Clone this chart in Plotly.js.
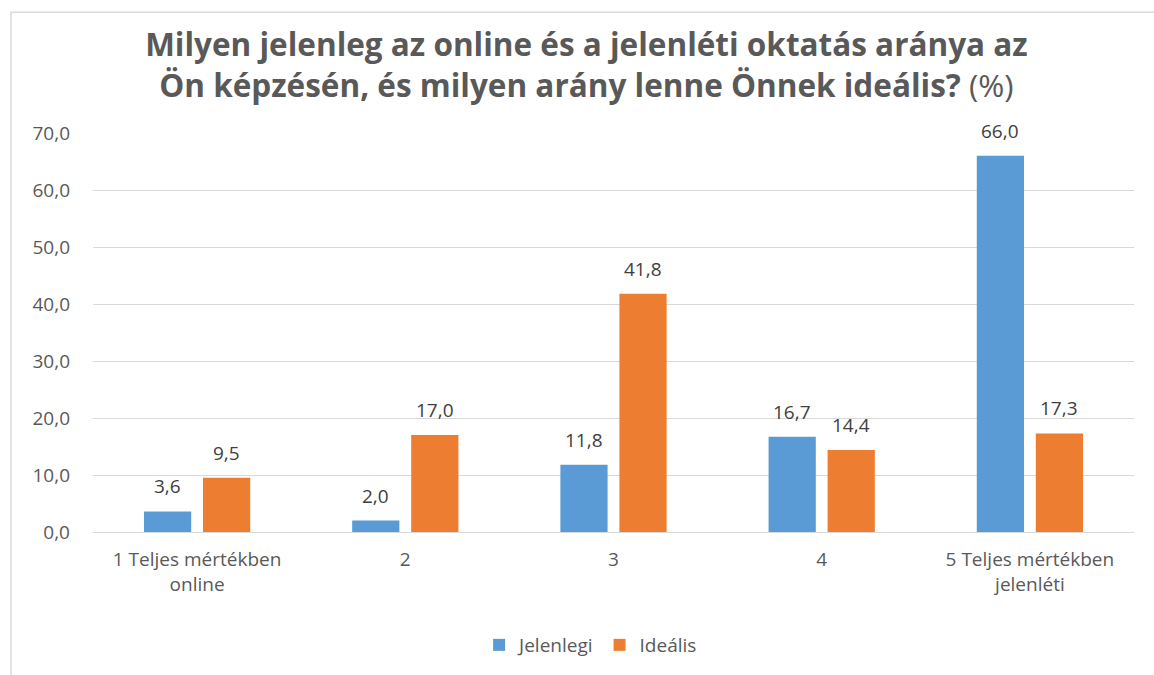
<!DOCTYPE html>
<html><head><meta charset="utf-8">
<script src="https://cdn.plot.ly/plotly-3.0.1.min.js"></script>
<style>html,body{margin:0;padding:0;background:#fff}#chart{width:1154px;height:675px}</style>
</head><body><div id="chart"></div>
<script>
const categories = ["1 Teljes mértékben<br>online", "2", "3", "4", "5 Teljes mértékben<br>jelenléti"];
const seriesNames = ["Jelenlegi", "Ideális"];
const jelenlegi = [3.6, 2.0, 11.8, 16.7, 66.0];
const idealis = [9.5, 17.0, 41.8, 14.4, 17.3];
const yTicks = [0, 10, 20, 30, 40, 50, 60, 70];
const titleLine1 = 'Milyen jelenleg az online és a jelenléti oktatás aránya az';
const titleLine2 = 'Ön képzésén, és milyen arány lenne Önnek ideális?';

const F = "'Open Sans', sans-serif";
const fmt = v => v.toFixed(1).replace('.', ',');
const common = {type: 'bar', x: categories, hoverinfo: 'skip'};
const data = [
  Object.assign({}, common, {y: jelenlegi, name: seriesNames[0], marker: {color: '#5B9BD5'}}),
  Object.assign({}, common, {y: idealis, name: seriesNames[1], marker: {color: '#ED7D31'}})
];
const labelAnn = (vals, shift) => vals.map((v, i) => ({
  x: i, y: v, xref: 'x', yref: 'y', text: fmt(v), showarrow: false,
  xshift: shift, yshift: 10, yanchor: 'bottom', xanchor: 'center',
  font: {family: F, size: 19, color: '#404040'}
}));
const layout = {
  width: 1154, height: 675, separators: ', ',
  paper_bgcolor: '#fff', plot_bgcolor: '#fff',
  margin: {l: 93, r: 20, t: 133, b: 142},
  font: {family: F, color: '#595959'},
  title: {
    text: '<b>' + titleLine1 + '</b><br><b>' + titleLine2 + '</b> (%)',
    font: {family: F, size: 31.5, color: '#595959'},
    xref: 'paper', x: 0.474, xanchor: 'center',
    yref: 'container', y: 0.917, yanchor: 'top'
  },
  barmode: 'group', bargap: 0.433, bargroupgap: 0.2,
  xaxis: {
    type: 'category', tickfont: {family: F, size: 19, color: '#595959'}, showline: true, linecolor: '#D9D9D9', linewidth: 1,
    ticks: '', ticklabelstandoff: 10, showgrid: false, fixedrange: true
  },
  yaxis: {
    range: [0, 70], tickvals: yTicks, tickformat: '.1f', tickfont: {family: F, size: 19, color: '#595959'},
    showgrid: true, gridcolor: '#D9D9D9', gridwidth: 1, zeroline: false, showline: false,
    ticks: '', ticklabelstandoff: 22, fixedrange: true
  },
  showlegend: true,
  legend: {orientation: 'h', x: 0.478, xanchor: 'center', y: -0.28, yanchor: 'middle',
    font: {family: F, size: 19, color: '#595959'}, traceorder: 'normal', itemwidth: 30},
  annotations: labelAnn(jelenlegi, -29.5).concat(labelAnn(idealis, 29.5)),
  shapes: [{type: 'rect', xref: 'paper', yref: 'paper', x0: -0.0788, x1: 1.2, y0: -0.6, y1: 1.3025,
    line: {color: '#D9D9D9', width: 1.5}, fillcolor: 'rgba(0,0,0,0)', layer: 'below'}]
};
Plotly.newPlot('chart', data, layout, {displayModeBar: false, staticPlot: true});
</script></body></html>
